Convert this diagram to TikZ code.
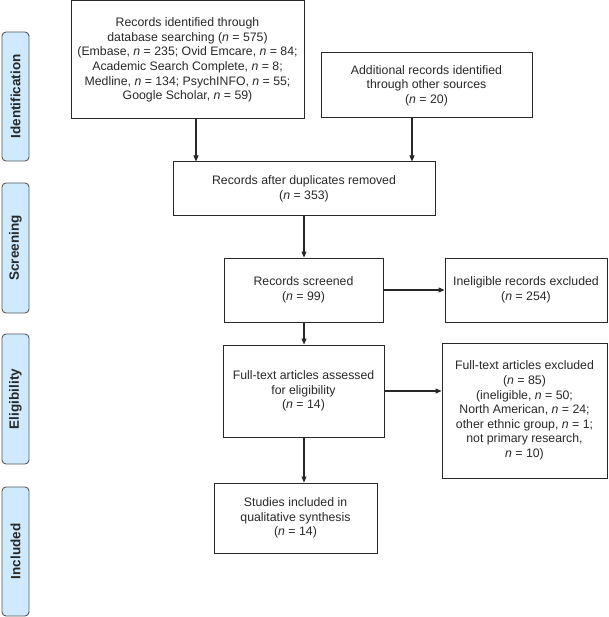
\documentclass[tikz,border=0pt]{standalone}
\usepackage{fontspec}
\setmainfont{Liberation Sans}
\usetikzlibrary{arrows.meta}
\definecolor{phasefill}{RGB}{206,234,252}
\definecolor{ink}{RGB}{40,40,40}
\newcommand{\nn}{\textit{n}}
\begin{document}
\begin{tikzpicture}[x=1pt,y=-1pt,
  box/.style={draw=ink,line width=1pt,align=center,inner sep=2pt,
    font=\fontsize{12.3}{14.6}\selectfont,text=ink},
  phase/.style={draw=black!65,line width=0.9pt,fill=phasefill,rounded corners=4pt,
    rotate=90,minimum height=27pt,inner sep=0pt,font=\bfseries\fontsize{13.5}{15}\selectfont,text=ink},
  arr/.style={-{Triangle[length=6pt,width=5pt]},line width=1.1pt,draw=ink}]
\useasboundingbox (0,0) rectangle (608,617);
\node[phase,minimum width=129pt] (p1) at (15.5,96.5) {Identification};
\node[phase,minimum width=130pt] (p2) at (15.5,248) {Screening};
\node[phase,minimum width=130pt] (p3) at (15.5,399) {Eligibility};
\node[phase,minimum width=129pt] (p4) at (15.5,551.5) {Included};
\node[box,minimum width=233pt,minimum height=118pt] (b1) at (187.5,60) {Records identified through\\database searching (\nn\ = 575)\\(Embase, \nn\ = 235; Ovid Emcare, \nn\ = 84;\\Academic Search Complete, \nn\ = 8;\\Medline, \nn\ = 134; PsychINFO, \nn\ = 55;\\Google Scholar, \nn\ = 59)};
\node[box,minimum width=211pt,minimum height=65pt] (b2) at (426.5,85.5) {Additional records identified\\through other sources\\(\nn\ = 20)};
\node[box,minimum width=262pt,minimum height=54pt] (b3) at (304,189) {Records after duplicates removed\\(\nn\ = 353)};
\node[box,minimum width=159pt,minimum height=64pt] (b4) at (303.5,290) {Records screened\\(\nn\ = 99)};
\node[box,minimum width=162pt,minimum height=64pt] (b5) at (526,290) {Ineligible records excluded\\(\nn\ = 254)};
\node[box,minimum width=161pt,minimum height=92pt] (b6) at (303.5,391) {Full-text articles assessed\\for eligibility\\(\nn\ = 14)};
\node[box,minimum width=165pt,minimum height=135pt] (b7) at (524.5,410.5) {Full-text articles excluded\\(\nn\ = 85)\\(ineligible, \nn\ = 50;\\North American, \nn\ = 24;\\other ethnic group, \nn\ = 1;\\not primary research,\\\nn\ = 10)};
\node[box,minimum width=163pt,minimum height=70pt] (b8) at (295.5,518) {Studies included in\\qualitative synthesis\\(\nn\ = 14)};
\coordinate (c1) at (196,0);
\coordinate (c2) at (412,0);
\coordinate (c3) at (304,0);
\draw[arr] (b1.south -| c1) -- (b3.north -| c1);
\draw[arr] (b2.south -| c2) -- (b3.north -| c2);
\draw[arr] (b3.south -| c3) -- (b4.north -| c3);
\draw[arr] (b4.east) -- (b5.west);
\draw[arr] (b4.south -| c3) -- (b6.north -| c3);
\draw[arr] (b6.east) -- (b6.east -| b7.west);
\draw[arr] (b6.south -| c3) -- (b8.north -| c3);
\end{tikzpicture}
\end{document}
